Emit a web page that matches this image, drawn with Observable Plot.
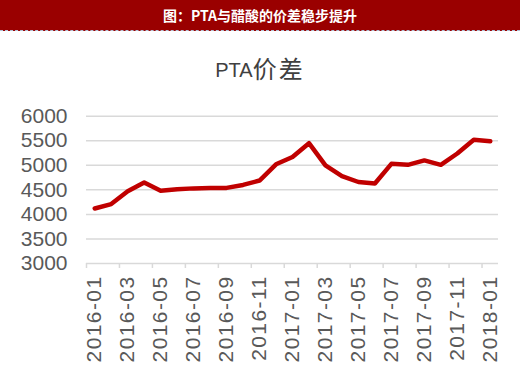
<!DOCTYPE html>
<html><head><meta charset="utf-8">
<script src="https://cdn.jsdelivr.net/npm/d3@7"></script>
<script src="https://cdn.jsdelivr.net/npm/@observablehq/plot@0.6"></script>
<style>
body{margin:0;background:#fff;width:520px;height:368px;overflow:hidden;position:relative;font-family:"Liberation Sans",Arial,sans-serif;}
#hdr{position:absolute;top:0;left:0;width:520px;height:30px;background:#9a0000;color:#fff;font:bold 14px "Noto Sans CJK SC",sans-serif;text-align:center;line-height:30px;border-bottom:1px dashed #b4c0d4;}
#ttl{position:absolute;top:53px;left:0;width:520px;text-align:center;font-size:20px;line-height:30px;color:#404040;font-family:"Liberation Sans","Noto Sans CJK SC",sans-serif;}
#ttl .cjk{font-size:24px;letter-spacing:2px;font-family:"Noto Sans CJK SC",sans-serif;vertical-align:-1px;}
#chart{position:absolute;top:90px;left:0;}
</style>
</head><body>
<div id="hdr">图：PTA与醋酸的价差稳步提升</div>
<div id="ttl">PTA<span class="cjk">价差</span></div>
<div id="chart"></div>
<script>
const months = ["2016-01","2016-02","2016-03","2016-04","2016-05","2016-06","2016-07","2016-08","2016-09","2016-10","2016-11","2016-12",
  "2017-01","2017-02","2017-03","2017-04","2017-05","2017-06","2017-07","2017-08","2017-09","2017-10","2017-11","2017-12","2018-01"];
const values = [4120,4210,4470,4650,4480,4510,4530,4540,4540,4600,4690,5020,
  5170,5450,5000,4780,4660,4630,5030,5010,5100,5010,5240,5520,5490];
const yTicks = [3000,3500,4000,4500,5000,5500,6000];

const data = months.map((m, i) => ({i, month: m, value: values[i]}));
const labelIdx = data.filter(d => d.i % 2 === 0).map(d => d.i);
const boundaries = labelIdx.map(i => i - 0.5);

const plot = Plot.plot({
  width: 520,
  height: 278,
  marginTop: 25.7,
  marginBottom: 105,
  marginLeft: 86,
  marginRight: 22,
  style: {fontFamily: "'Liberation Sans', Arial, sans-serif", background: "transparent"},
  x: {type: "linear", domain: [-0.5, months.length - 0.5], axis: null, label: null},
  y: {domain: [3000, 6000], axis: null, label: null},
  marks: [
    Plot.ruleY(yTicks, {stroke: "#d9d9d9", strokeWidth: 1.5}),
    Plot.axisX(boundaries, {tickSize: 5, tickFormat: () => "", stroke: "#d9d9d9", strokeWidth: 1.5, label: null}),
    Plot.axisX(labelIdx, {tickSize: 0, tickPadding: 12, tickRotate: -90, tickFormat: i => months[i], fontSize: 21, fill: "#595959", label: null}),
    Plot.axisY(yTicks, {tickSize: 0, tickPadding: 19, tickFormat: d => String(d), fontSize: 21, fill: "#595959", label: null}),
    Plot.line(data, {x: "i", y: "value", stroke: "#c00000", strokeWidth: 4.5, strokeLinejoin: "round", strokeLinecap: "round"})
  ]
});
document.getElementById("chart").appendChild(plot);
plot.querySelectorAll('[aria-label="x-axis tick label"] text').forEach(t => t.setAttribute("letter-spacing", "1.4px"));
</script>
</body></html>
